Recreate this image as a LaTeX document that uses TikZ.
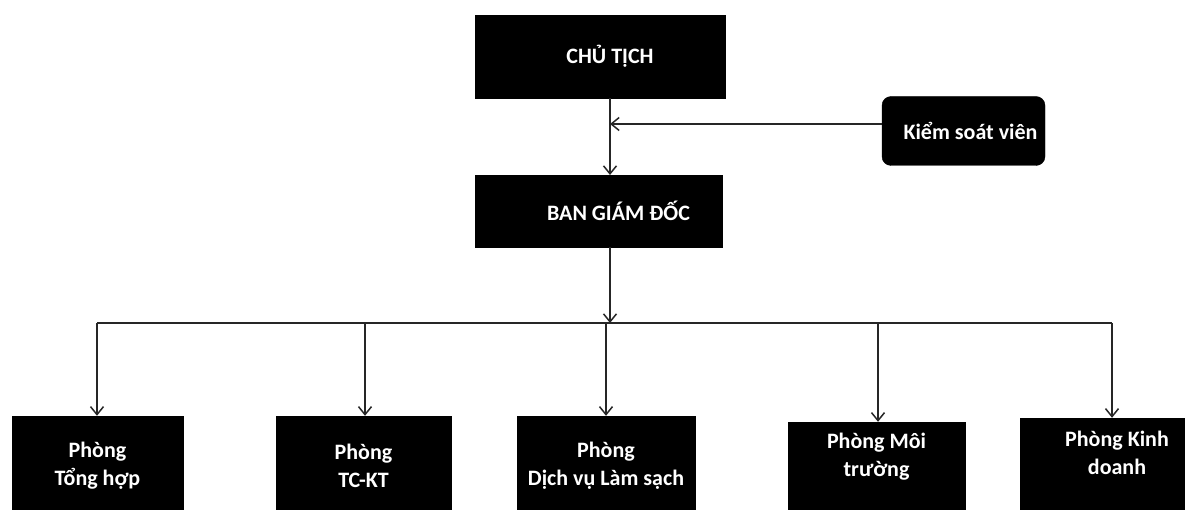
\documentclass[tikz,border=0pt]{standalone}
\usepackage{fontspec}
\setmainfont{Carlito}
\usetikzlibrary{arrows.meta}
\begin{document}
\begin{tikzpicture}[x=1pt,y=-1pt,
  box/.style={draw=black,fill=black,text=white,inner sep=0pt,align=center,
    font=\bfseries\fontsize{22}{28}\selectfont},
  conn/.style={line width=1.5pt,draw=black!85},
  arr/.style={conn,-{Straight Barb[length=8pt,width=13pt,line width=1.5pt]}}
]
\useasboundingbox (0,0) rectangle (1185,510);
\fill[white] (0,0) rectangle (1185,510);
% top boxes
\node[box,minimum width=250pt,minimum height=83pt] (ct) at (600,56.5) {\hspace*{20pt}CHỦ TỊCH};
\node[box,minimum width=247pt,minimum height=72pt] (bgd) at (598.5,211) {\hspace*{40pt}BAN GIÁM ĐỐC};
\node[box,rounded corners=9pt,minimum width=163pt,minimum height=69pt] (ksv) at (963.5,131) {\hspace*{14pt}Kiểm soát viên};
% bottom boxes
\node[box,minimum width=171pt,minimum height=100pt] (p1) at (97.5,466) {Phòng\\Tổng hợp};
\node[box,minimum width=175pt,minimum height=100pt] (p2) at (363.5,466) {Phòng\\TC-KT};
\node[box,minimum width=178pt,minimum height=100pt] (p3) at (606,466) {Phòng\\Dịch vụ Làm sạch};
\node[box,text depth=30pt,minimum width=177pt,minimum height=96pt] (p4) at (876.5,470) {Phòng Môi\\trường};
\node[box,text depth=30pt,minimum width=184pt,minimum height=100pt] (p5) at (1112,468) {\hspace*{10pt}Phòng Kinh\\\hspace*{10pt}doanh};
% connectors
\coordinate (ctb) at (610,98);
\coordinate (bgdt) at (610,175);
\coordinate (kj) at (610,124);
\coordinate (bgdb) at (610,247);
\coordinate (hj) at (610,323);
\coordinate (hl) at (97,323);
\coordinate (hr) at (1112,323);
\draw[arr] (ctb) -- (bgdt);
\draw[arr] (ksv.west |- kj) -- (kj);
\draw[arr] (bgdb) -- (hj);
\draw[conn] (hl) -- (hr);
\draw[arr] (hl) -- (p1.north -| hl);
\draw[arr] (365,323) -- (p2.north -| 365,0);
\draw[arr] (606,323) -- (p3.north -| 606,0);
\draw[arr] (878,323) -- (p4.north -| 878,0);
\draw[arr] (hr) -- (p5.north -| hr);
\end{tikzpicture}
\end{document}
